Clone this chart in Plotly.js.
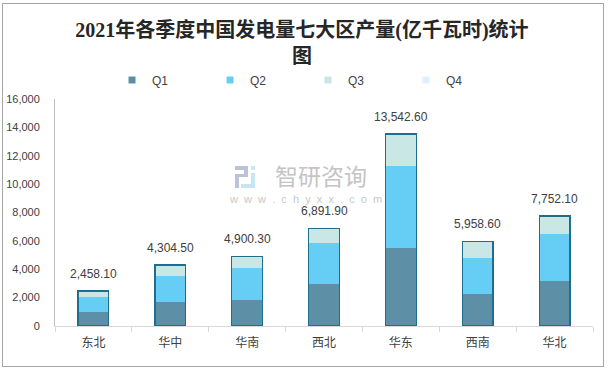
<!DOCTYPE html>
<html>
<head>
<meta charset="utf-8">
<script src="https://cdn.plot.ly/plotly-3.0.1.min.js"></script>
<style>
  html, body { margin: 0; padding: 0; background: #fff; }
  #frame { position: absolute; left: 2px; top: 3px; width: 600px; height: 362px; border: 1px solid #a6a6a6; }
  #chart { position: absolute; left: -3px; top: -4px; width: 610px; height: 370px; }
</style>
</head>
<body>
<div id="frame"><div id="chart"></div></div>
<script>
const regions = ["东北", "华中", "华南", "西北", "华东", "西南", "华北"];
const q1 = [987, 1691, 1832, 2960, 5497, 2255, 3150];
const q2 = [1057, 1833, 2255, 2889, 5800, 2558, 3333];
const q3 = [414.1, 780.5, 813.3, 1042.9, 2245.6, 1145.6, 1269.1];
const q4 = [0, 0, 0, 0, 0, 0, 0];
const totals = [2458.1, 4304.5, 4900.3, 6891.9, 13542.6, 5958.6, 7752.1];
const seriesNames = ["Q1", "Q2", "Q3", "Q4"];
const seriesColors = ["#5d8fa6", "#66cdf4", "#c9e7e4", "#ddf1fb"];
const yTickVals = [0, 2000, 4000, 6000, 8000, 10000, 12000, 14000, 16000];

const qData = [q1, q2, q3, q4];
const traces = [];
qData.forEach((vals, i) => {
  traces.push({
    type: "bar", x: regions, y: vals, name: seriesNames[i],
    marker: { color: seriesColors[i], line: { width: 0 } },
    showlegend: false, hoverinfo: "x+y+name"
  });
});
// outline around each full stack
traces.push({
  type: "bar", x: regions, y: totals, xaxis: "x2", yaxis: "y",
  marker: { color: "rgba(0,0,0,0)", line: { color: "#1f6e8c", width: 1.3 } },
  showlegend: false, hoverinfo: "skip"
});
// legend entries with small square symbols
seriesNames.forEach((n, i) => {
  traces.push({
    type: "scatter", mode: "markers", x: [null], y: [null], name: n,
    marker: { symbol: "square", size: 7, color: seriesColors[i] },
    showlegend: true, hoverinfo: "skip"
  });
});

const fmt = v => v.toLocaleString("en-US", { minimumFractionDigits: 2, maximumFractionDigits: 2 });
const annotations = regions.map((r, i) => ({
  x: r, y: totals[i], xref: "x", yref: "y", text: fmt(totals[i]),
  showarrow: false, yanchor: "bottom", yshift: 8,
  font: { family: "Liberation Sans, Arial, sans-serif", size: 12, color: "#404040" }
}));
const NB = "\u00A0";
// watermark (decorative), placed in plot-area fractions
const PL = 55, PW = 538, PB = 326, PH = 227;
const px = v => (v - PL) / PW, py = v => (PB - v) / PH;
annotations.push({
  xref: "paper", yref: "paper", x: px(321), y: py(175), yanchor: "middle",
  text: "智研咨询", showarrow: false,
  font: { family: "Noto Sans CJK SC", size: 23, color: "#c4c4c4" }
});
annotations.push({
  xref: "paper", yref: "paper", x: px(305), y: py(198.5), yanchor: "middle",
  text: "www.chyxx.com".split("").join(NB + NB), showarrow: false,
  font: { family: "Liberation Sans, Arial, sans-serif", size: 11, color: "#c8c8c8" }
});
const iconRects = [
  [235, 166, 248, 170, "#bcc3d8"], [244, 166, 248, 177, "#bcc3d8"], [235, 174, 248, 177, "#bcc3d8"],
  [235, 174, 239, 188, "#bcc3d8"], [251, 166, 255, 170, "#c6e5f5"], [251, 173, 255, 188, "#c6e5f5"],
  [241, 184, 255, 188, "#c6e5f5"]
];
const shapes = iconRects.map(r => ({
  type: "rect", xref: "paper", yref: "paper",
  x0: px(r[0]), x1: px(r[2]), y0: py(r[3]), y1: py(r[1]),
  fillcolor: r[4], line: { width: 0 }, layer: "below"
}));

const layout = {
  width: 610, height: 370,
  margin: { l: 55, r: 17, t: 99, b: 44 },
  paper_bgcolor: "rgba(0,0,0,0)", plot_bgcolor: "rgba(0,0,0,0)",
  barmode: "stack", bargap: 0.6,
  title: {
    text: "2021年各季度中国发电量七大区产量(亿千瓦时)统计<br>图",
    font: { family: "Liberation Serif, Noto Sans CJK SC, serif", size: 20, color: "#262626", weight: "bold" },
    x: 0.495, xanchor: "center", xref: "container",
    y: 0.9, yanchor: "middle", yref: "container"
  },
  xaxis: {
    type: "category", showline: true, linecolor: "#d9d9d9", linewidth: 1,
    ticks: "outside", tickson: "boundaries", ticklen: 5, tickcolor: "#d9d9d9",
    ticklabelstandoff: 6,
    tickfont: { family: "Noto Sans CJK SC", size: 12, color: "#404040" },
    showgrid: false, zeroline: false, fixedrange: true
  },
  xaxis2: { type: "category", overlaying: "x", matches: "x", visible: false },
  yaxis: {
    range: [0, 16000], tickvals: yTickVals, tickformat: ",d",
    showline: true, linecolor: "#bfbfbf", linewidth: 1,
    showgrid: false, zeroline: false, ticks: "", ticklabelstandoff: 12,
    tickfont: { family: "Liberation Sans, Arial, sans-serif", size: 11, color: "#404040" }
  },
  legend: {
    orientation: "h", traceorder: "normal",
    x: 0.106, xanchor: "left", y: 1.084, yanchor: "middle",
    entrywidth: 53, entrywidthmode: "pixels",
    font: { family: "Liberation Sans, Arial, sans-serif", size: 12, color: "#404040" },
    bgcolor: "rgba(0,0,0,0)"
  },
  annotations: annotations,
  shapes: shapes,
  showlegend: true
};

Plotly.newPlot("chart", traces, layout, { displayModeBar: false, staticPlot: true });
</script>
</body>
</html>
